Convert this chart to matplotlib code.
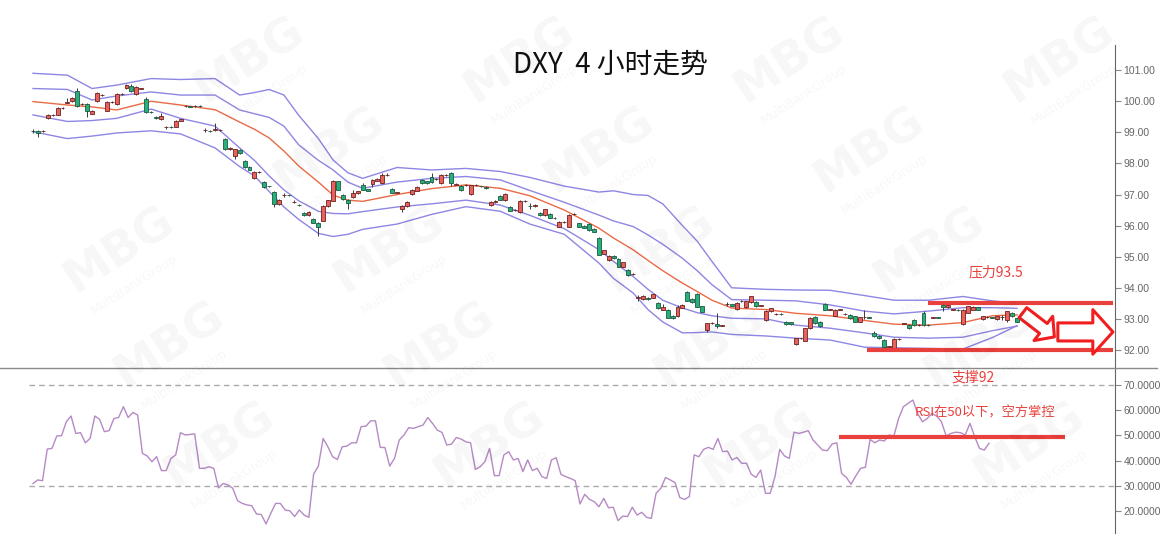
import numpy as np
import matplotlib
matplotlib.use('Agg')
import matplotlib.pyplot as plt
from matplotlib.lines import Line2D

plt.rcParams['font.family'] = ['Noto Sans CJK SC', 'DejaVu Sans']

# ---- 4小时K线 (开 / 高 / 低 / 收) ----
opens = [
    99.05, 99.05, 99.04, 99.46, 99.56, 99.56, 99.78, 99.95, 100.00, 100.33,
    99.90, 99.90, 99.60, 100.00, 100.20, 99.70, 99.97, 99.90, 100.23, 100.42,
    100.50, 100.22, 100.40, 100.06, 99.65, 99.50, 99.43, 99.17, 99.17, 99.18,
    99.37, 99.85, 99.84, 99.84, 99.85, 99.07, 99.05, 99.08, 99.06, 98.80,
    98.45, 98.24, 98.43, 98.08, 97.90, 97.53, 97.72, 97.40, 97.27, 97.08,
    96.69, 96.98, 96.98, 96.75, 96.66, 96.42, 96.33, 96.20, 96.10, 96.16,
    96.62, 96.80, 97.42, 96.98, 96.82, 96.93, 97.05, 97.30, 97.17, 97.33,
    97.45, 97.36, 97.63, 97.18, 97.06, 96.54, 96.62, 97.02, 97.12, 97.47,
    97.43, 97.56, 97.50, 97.37, 97.63, 97.69, 97.32, 97.27, 97.31, 97.02,
    97.30, 97.27, 97.24, 96.66, 96.75, 96.94, 96.81, 96.60, 96.50, 96.44,
    96.78, 96.63, 96.62, 96.42, 96.34, 96.37, 96.25, 95.97, 96.12, 95.97,
    96.37, 96.08, 96.00, 96.05, 95.89, 95.61, 95.10, 94.89, 95.02, 94.93,
    94.68, 94.57, 94.43, 93.68, 93.64, 93.68, 93.68, 93.51, 93.30, 93.30,
    93.09, 93.08, 93.36, 93.88, 93.64, 93.81, 93.41, 92.64, 92.86, 92.82,
    92.78, 93.48, 93.47, 93.31, 93.56, 93.38, 93.54, 93.54, 93.42, 92.98,
    93.25, 93.16, 93.16, 92.91, 92.89, 92.19, 92.37, 92.30, 92.70, 93.07,
    92.89, 93.48, 93.30, 93.10, 93.30, 93.16, 93.13, 93.08, 92.91, 93.05,
    93.05, 92.56, 92.45, 92.32, 92.10, 92.05, 92.35, 92.84, 92.80, 92.96,
    92.79, 93.20, 92.80, 93.04, 93.05, 93.45, 93.38, 93.29, 93.29, 92.83,
    93.20, 93.29, 93.37, 93.00, 93.05, 93.05, 93.00, 93.06, 92.96, 93.20,
    93.02]
highs = [
    99.10, 99.08, 99.09, 99.58, 99.59, 99.82, 99.82, 100.10, 100.13, 100.42,
    99.94, 99.95, 99.73, 100.30, 100.24, 100.00, 100.01, 100.26, 100.27, 100.56,
    100.55, 100.48, 100.44, 100.15, 99.68, 99.53, 99.62, 99.22, 99.19, 99.40,
    99.44, 99.88, 99.86, 99.87, 99.87, 99.13, 99.09, 99.30, 99.10, 98.83,
    98.53, 98.48, 98.46, 98.10, 97.92, 97.75, 97.75, 97.45, 97.29, 97.12,
    96.85, 97.05, 97.00, 96.82, 96.68, 96.45, 96.46, 96.23, 96.13, 96.66,
    96.84, 97.46, 97.45, 97.01, 96.85, 97.15, 97.12, 97.36, 97.19, 97.50,
    97.52, 97.70, 97.68, 97.20, 97.09, 96.66, 96.78, 97.17, 97.26, 97.50,
    97.45, 97.68, 97.53, 97.66, 97.66, 97.72, 97.36, 97.30, 97.34, 97.32,
    97.33, 97.29, 97.26, 96.79, 96.82, 96.97, 97.05, 96.63, 96.53, 96.81,
    96.81, 96.72, 96.68, 96.44, 96.55, 96.39, 96.27, 96.15, 96.16, 96.36,
    96.42, 96.10, 96.02, 96.08, 95.91, 95.63, 95.23, 95.04, 95.04, 94.95,
    94.84, 94.59, 94.46, 93.76, 93.76, 93.70, 93.81, 93.53, 93.48, 93.32,
    93.11, 93.45, 93.47, 93.90, 93.66, 93.83, 93.43, 92.88, 92.89, 93.20,
    92.81, 93.55, 93.49, 93.54, 93.62, 93.58, 93.74, 93.56, 93.45, 93.27,
    93.36, 93.19, 93.18, 92.93, 92.91, 92.40, 92.40, 92.72, 93.05, 93.10,
    92.92, 93.52, 93.33, 93.31, 93.33, 93.19, 93.15, 93.10, 93.07, 93.30,
    93.07, 92.60, 92.47, 92.34, 92.13, 92.37, 92.38, 92.87, 92.82, 93.00,
    92.82, 93.25, 92.82, 93.07, 93.07, 93.47, 93.47, 93.32, 93.31, 93.31,
    93.43, 93.40, 93.39, 93.10, 93.08, 93.07, 93.10, 93.12, 93.26, 93.22,
    93.04]
lows = [
    98.98, 98.86, 99.01, 99.43, 99.53, 99.55, 99.76, 99.93, 99.98, 99.83,
    99.88, 99.50, 99.58, 99.97, 100.18, 99.68, 99.95, 99.88, 100.21, 100.40,
    100.30, 100.20, 100.38, 99.63, 99.62, 99.42, 99.41, 99.10, 99.14, 99.16,
    99.35, 99.83, 99.81, 99.82, 99.82, 99.02, 99.00, 99.03, 99.03, 98.43,
    98.43, 98.15, 98.31, 97.86, 97.78, 97.50, 97.70, 97.22, 97.24, 96.60,
    96.66, 96.92, 96.95, 96.73, 96.63, 96.30, 96.31, 96.07, 95.68, 96.14,
    96.60, 96.78, 97.14, 96.83, 96.55, 96.90, 97.03, 97.14, 97.10, 97.25,
    97.43, 97.34, 97.61, 97.04, 97.04, 96.45, 96.60, 97.00, 97.10, 97.34,
    97.34, 97.38, 97.48, 97.35, 97.61, 97.28, 97.30, 97.10, 97.29, 97.00,
    97.28, 97.24, 97.18, 96.64, 96.73, 96.81, 96.79, 96.46, 96.48, 96.42,
    96.76, 96.55, 96.60, 96.32, 96.32, 96.23, 96.22, 95.95, 96.10, 95.95,
    96.35, 95.95, 95.91, 95.84, 95.78, 95.05, 95.08, 94.87, 94.94, 94.66,
    94.66, 94.39, 94.41, 93.58, 93.62, 93.62, 93.66, 93.33, 93.28, 93.02,
    93.00, 93.06, 93.34, 93.57, 93.51, 93.37, 93.21, 92.58, 92.84, 92.70,
    92.76, 93.42, 93.40, 93.29, 93.54, 93.36, 93.52, 93.39, 93.40, 92.94,
    93.23, 93.14, 93.13, 92.80, 92.81, 92.17, 92.35, 92.28, 92.68, 92.84,
    92.74, 93.27, 93.28, 93.08, 93.28, 93.14, 93.00, 92.89, 92.89, 93.00,
    93.02, 92.43, 92.35, 92.00, 92.05, 92.00, 92.33, 92.82, 92.68, 92.78,
    92.77, 92.78, 92.77, 93.02, 93.02, 93.25, 93.36, 93.27, 93.26, 92.81,
    93.18, 93.27, 93.27, 92.98, 93.03, 93.02, 92.98, 92.98, 92.90, 93.06,
    92.89]
closes = [
    99.03, 98.99, 99.05, 99.55, 99.57, 99.78, 99.79, 99.96, 100.10, 99.85,
    99.91, 99.70, 99.70, 100.26, 100.21, 99.97, 99.98, 100.23, 100.24, 100.52,
    100.33, 100.45, 100.41, 99.65, 99.64, 99.45, 99.54, 99.18, 99.16, 99.37,
    99.42, 99.86, 99.83, 99.85, 99.84, 99.08, 99.04, 99.09, 99.07, 98.45,
    98.50, 98.45, 98.33, 97.88, 97.80, 97.72, 97.73, 97.24, 97.26, 96.69,
    96.82, 96.99, 96.97, 96.76, 96.65, 96.33, 96.43, 96.09, 95.96, 96.63,
    96.81, 97.43, 97.16, 96.85, 96.72, 97.05, 97.10, 97.16, 97.12, 97.47,
    97.50, 97.63, 97.64, 97.06, 97.07, 96.63, 96.75, 97.15, 97.24, 97.36,
    97.36, 97.40, 97.51, 97.63, 97.64, 97.37, 97.33, 97.14, 97.32, 97.30,
    97.31, 97.26, 97.20, 96.76, 96.80, 96.83, 97.02, 96.48, 96.51, 96.78,
    96.79, 96.62, 96.66, 96.34, 96.52, 96.25, 96.24, 96.12, 96.13, 96.33,
    96.38, 95.97, 95.93, 95.86, 95.80, 95.07, 95.21, 95.02, 94.96, 94.68,
    94.82, 94.41, 94.44, 93.69, 93.74, 93.64, 93.79, 93.35, 93.39, 93.04,
    93.02, 93.38, 93.45, 93.59, 93.53, 93.39, 93.23, 92.86, 92.87, 92.76,
    92.79, 93.49, 93.42, 93.52, 93.57, 93.56, 93.72, 93.41, 93.43, 93.25,
    93.34, 93.17, 93.15, 92.82, 92.83, 92.37, 92.38, 92.70, 93.02, 92.86,
    92.76, 93.29, 93.31, 93.29, 93.31, 93.17, 93.02, 92.91, 93.05, 93.06,
    93.04, 92.45, 92.37, 92.10, 92.11, 92.35, 92.36, 92.85, 92.70, 92.80,
    92.80, 92.80, 92.79, 93.05, 93.04, 93.38, 93.45, 93.30, 93.28, 93.29,
    93.41, 93.38, 93.29, 93.08, 93.06, 93.04, 93.08, 93.07, 93.24, 93.08,
    92.91]

# ---- 布林带 (按K线序号取样) ----
band_idx = [0, 7, 12, 17, 24, 30, 37, 42, 45, 48, 51, 54, 58, 61, 64, 67, 74, 81, 88, 95,
            101, 108, 115, 118, 122, 125, 128, 132, 135, 138, 142, 149, 155, 162, 169,
            175, 182, 189, 195, 200]
band_up2 = [100.90, 100.84, 100.41, 100.52, 100.73, 100.70, 100.73, 100.20, 100.28, 100.38,
            100.20, 99.55, 98.80, 98.11, 97.70, 97.52, 97.87, 97.79, 97.84, 97.74,
            97.55, 97.27, 97.08, 97.12, 97.00, 96.97, 96.70, 96.00, 95.50, 94.85,
            94.00, 93.95, 93.93, 93.92, 93.75, 93.60, 93.60, 93.72, 93.58, 93.50]
band_up1 = [100.41, 100.38, 100.04, 100.17, 100.30, 100.20, 100.20, 99.72, 99.60, 99.48,
            99.20, 98.60, 98.10, 97.79, 97.40, 97.20, 97.40, 97.52, 97.58, 97.47,
            97.13, 96.75, 96.34, 96.15, 95.97, 95.70, 95.40, 94.95, 94.55, 94.10,
            93.62, 93.60, 93.58, 93.45, 93.25, 93.16, 93.25, 93.36, 93.36, 93.34]
band_mid = [99.99, 99.88, 99.82, 99.72, 100.00, 99.88, 99.73, 99.33, 99.10, 98.82,
            98.40, 97.92, 97.40, 96.98, 96.82, 96.78, 97.00, 97.19, 97.31, 97.20,
            96.96, 96.50, 95.92, 95.60, 95.22, 94.88, 94.55, 94.15, 93.88, 93.60,
            93.35, 93.30, 93.18, 93.10, 92.95, 92.83, 92.80, 92.88, 93.10, 93.13]
band_dn1 = [99.56, 99.35, 99.38, 99.45, 99.75, 99.45, 99.20, 98.50, 98.10, 97.60,
            97.15, 96.80, 96.46, 96.39, 96.38, 96.45, 96.60, 96.70, 96.82, 96.66,
            96.33, 95.90, 95.23, 94.85, 94.36, 93.95, 93.60, 93.35, 93.20, 93.10,
            93.02, 93.00, 92.80, 92.70, 92.55, 92.41, 92.38, 92.41, 92.62, 92.77]
band_dn2 = [99.02, 98.80, 98.88, 98.98, 99.05, 98.95, 98.50, 97.90, 97.60, 97.10,
            96.60, 96.20, 95.75, 95.65, 95.72, 95.88, 96.05, 96.36, 96.61, 96.46,
            96.05, 95.72, 94.80, 94.30, 93.83, 93.30, 92.90, 92.55, 92.56, 92.58,
            92.50, 92.45, 92.38, 92.32, 92.09, 92.07, 92.05, 92.03, 92.40, 92.78]

# ---- RSI ----
rsi = [
    31.0, 32.4, 32.1, 44.6, 44.9, 49.8, 49.9, 55.4, 57.7, 50.8,
    51.1, 47.1, 48.8, 57.7, 56.4, 51.5, 51.9, 56.7, 57.1, 61.4,
    57.1, 59.1, 58.1, 42.9, 41.9, 39.6, 41.6, 36.1, 36.1, 40.9,
    42.3, 51.1, 50.2, 50.4, 50.6, 37.0, 37.0, 37.6, 37.0, 29.3,
    31.0, 30.4, 29.1, 24.2, 23.1, 22.5, 22.2, 18.9, 18.7, 15.0,
    19.2, 23.1, 23.1, 20.5, 20.2, 17.9, 20.5, 18.5, 17.6, 34.7,
    37.9, 48.8, 45.5, 41.6, 40.5, 45.5, 45.8, 47.1, 47.1, 53.5,
    53.7, 55.8, 55.8, 45.3, 45.2,
    37.9, 40.9, 48.2, 50.2, 53.1, 52.8, 53.5, 54.1, 57.1, 54.8,
    52.1, 51.2, 46.2, 46.6, 49.2, 48.6, 47.5, 47.1, 36.6, 37.6,
    39.6, 44.9, 34.1, 34.1, 42.3, 43.6, 40.3, 40.9, 35.7, 40.3,
    36.1, 37.0, 33.7, 33.0, 40.3, 41.2, 34.6, 33.7, 33.0, 32.1,
    22.9, 26.7, 24.7, 23.8, 21.8, 25.1, 21.4, 21.6, 16.3, 18.1,
    17.9, 21.6, 18.5, 19.6, 17.6, 17.2, 27.1, 29.1, 33.4, 32.4,
    31.3, 25.4, 24.7, 25.8,
    42.3, 41.6, 44.5, 45.3, 44.5, 48.8, 43.6, 43.8, 40.3, 41.3,
    39.0, 39.0, 34.7, 33.4, 36.3, 27.1, 27.1, 33.7, 44.5, 41.9,
    40.9, 51.3, 50.8, 51.3, 51.9, 48.2, 46.2, 44.2, 44.0, 46.6,
    47.1, 35.0, 33.4, 30.7, 34.0, 37.0, 37.4, 48.4, 47.1, 48.2,
    47.8, 50.2, 49.8, 56.7, 61.4, 62.7, 64.0, 58.7, 55.4, 56.7,
    58.7, 57.7, 55.4, 49.8, 50.8, 51.3, 51.1, 50.2, 54.8, 49.5,
    44.9, 44.2, 46.9]

price_ticks = [92, 93, 94, 95, 96, 97, 98, 99, 100, 101]
rsi_ticks = [20, 30, 40, 50, 60, 70]
resistance = 93.5
support = 92.0
rsi_level = 49.5

RED = '#e8403c'
UP = '#e8625c'
DOWN = '#25b07c'
BAND = '#8e86e4'
MID = '#ea6a45'

W, H = 1173, 560
fig = plt.figure(figsize=(W / 100, H / 100), dpi=100)


def fx(px):
    return px / W


def fy(py):
    return 1 - py / H


# 主图
ax = fig.add_axes([0, fy(368), fx(1115), (368 - 45) / H])
ax.patch.set_alpha(0)
n = len(opens)
step = 4.92
ax.set_xlim(-33 / step, (1115 - 33) / step)
ax.set_ylim(91.42, 101.81)

bx = np.array(band_idx)
for band, col in [(band_up2, BAND), (band_up1, BAND), (band_mid, MID),
                  (band_dn1, BAND), (band_dn2, BAND)]:
    ax.plot(bx, band, color=col, lw=1.0, zorder=2, solid_joinstyle='round')

o = np.array(opens)
c = np.array(closes)
idx = np.arange(n)
up = c >= o
ax.vlines(idx, lows, highs, color='#3a3a3a', lw=0.7, zorder=3)
ax.bar(idx, np.maximum(np.abs(c - o), 0.012), bottom=np.minimum(o, c), width=0.8,
       color=np.where(up, UP, DOWN), edgecolor=np.where(up, '#6e2222', '#1d5a40'),
       linewidth=0.6, zorder=4)

# 压力 / 支撑
ax.hlines(resistance, 181.9, 219.5, color=RED, lw=3, zorder=5)
ax.hlines(support, 169.5, 219.5, color=RED, lw=3, zorder=5)
ax.text(195.7, 94.5, '压力93.5', color=RED, fontsize=10, ha='center', va='center')

ax.annotate('', xy=(207.6, 92.42), xytext=(201.2, 93.2),
            arrowprops=dict(arrowstyle='simple,head_length=1.0,head_width=2.2,tail_width=0.9',
                            fc='white', ec='#f01e1e', lw=2.2, mutation_scale=10,
                            shrinkA=0, shrinkB=0), zorder=6)
ax.annotate('', xy=(219.5, 92.58), xytext=(208.3, 92.58),
            arrowprops=dict(arrowstyle='simple,head_length=1.45,head_width=3.2,tail_width=1.3',
                            fc='white', ec='#f01e1e', lw=2.2, mutation_scale=10,
                            shrinkA=0, shrinkB=0), zorder=6)

for s in ['left', 'top', 'bottom']:
    ax.spines[s].set_visible(False)
ax.spines['right'].set_color('#666666')
ax.set_xticks([])
ax.yaxis.tick_right()
ax.set_yticks(price_ticks, labels=[f'{v:.2f}' for v in price_ticks],
              fontfamily='Liberation Sans')
ax.tick_params(axis='y', length=4, width=0.8, colors='#888888', labelcolor='#666666',
               labelsize=7.5, pad=2)

# RSI 副图
ax2 = fig.add_axes([0, fy(533), fx(1115), (533 - 368) / H])
ax2.patch.set_alpha(0)
m = len(rsi)
rstep = (989 - 33) / (m - 1)
ax2.set_xlim(-33 / rstep, (1115 - 33) / rstep)
ax2.set_ylim(11.4, 76.7)
ax2.axhline(70, xmin=29 / 1115, xmax=1, color='#aaaaaa', lw=1, dashes=(4, 3))
ax2.axhline(30, xmin=29 / 1115, xmax=1, color='#aaaaaa', lw=1, dashes=(4, 3))
ax2.plot(np.arange(m), rsi, color='#b58ac4', lw=1.0)
ax2.hlines(rsi_level, (839 - 33) / rstep, (1065 - 33) / rstep, color=RED, lw=3, zorder=5)
ax2.text((973 - 33) / rstep, 73.1, '支撑92', color=RED, fontsize=10, ha='center', va='center')
ax2.text((985 - 33) / rstep, 58.9, 'RSI在50以下，空方掌控', color=RED, fontsize=9.5,
         ha='center', va='center')

for s in ['left', 'top', 'bottom']:
    ax2.spines[s].set_visible(False)
ax2.spines['right'].set_color('#666666')
ax2.set_xticks([])
ax2.yaxis.tick_right()
ax2.set_yticks(rsi_ticks, labels=[f'{v:.4f}' for v in rsi_ticks],
               fontfamily='Liberation Sans')
ax2.tick_params(axis='y', length=4, width=0.8, colors='#888888', labelcolor='#666666',
                labelsize=7.5, pad=2)

# 分隔线
fig.add_artist(Line2D([0, fx(1157)], [fy(368), fy(368)], color='#8a8a8a', lw=1))

# 标题
fig.text(fx(610), fy(65), 'DXY  4 小时走势', ha='center', va='center', fontsize=20,
         color='#111111')

# 水印 (只放完整落在图内的)
wm_rows = [(60, 250), (150, 60), (250, 120), (345, 170), (445, 220)]
for yy, x0 in wm_rows:
    for xx in range(x0, 1300, 270):
        if xx < 70 or xx > 1090:
            continue
        fig.text(fx(xx), fy(yy), 'MBG', rotation=33, fontsize=34, fontweight='bold',
                 color='#000000', alpha=0.035, ha='center', va='center',
                 family='DejaVu Sans')
        fig.text(fx(xx + 14), fy(yy + 34), 'MultiBankGroup', rotation=33, fontsize=9,
                 color='#000000', alpha=0.035, ha='center', va='center',
                 family='DejaVu Sans')

fig.savefig('out.png', dpi=100, facecolor='white')
